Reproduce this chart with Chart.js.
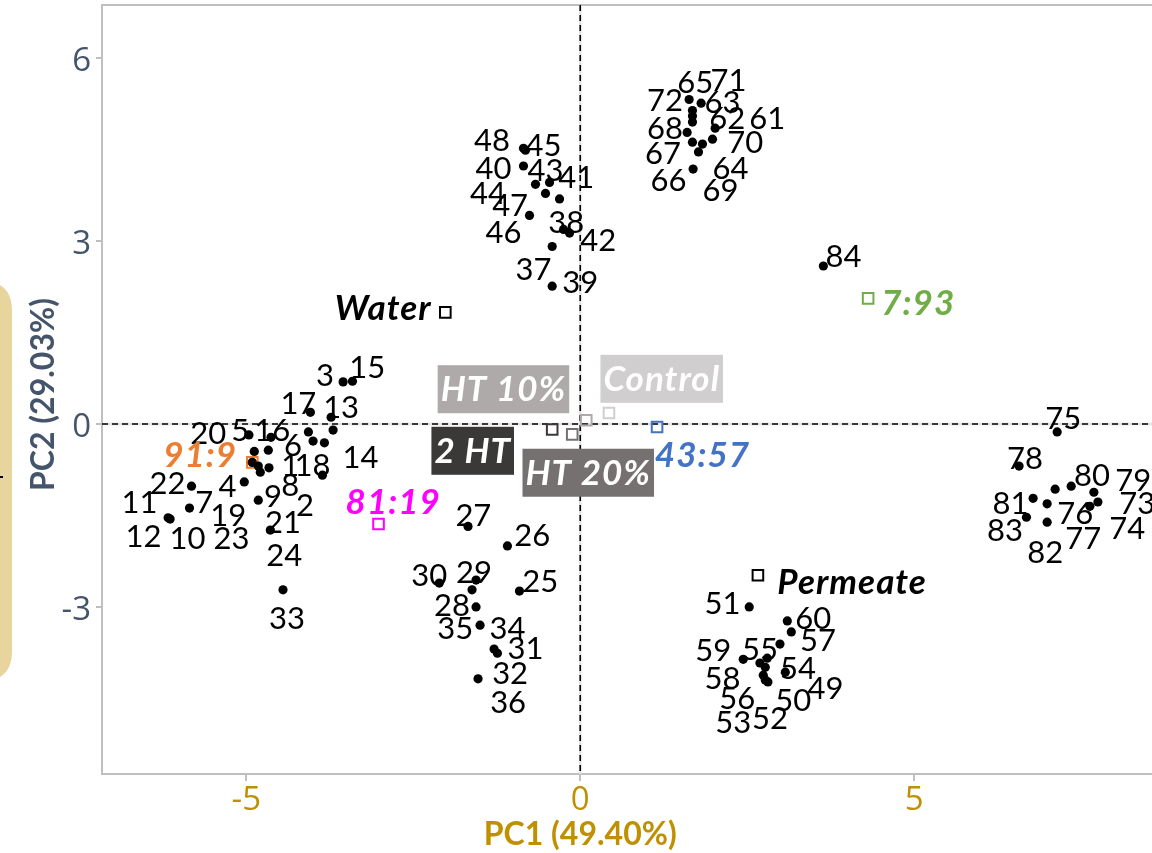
<!DOCTYPE html>
<html lang="en">
<head>
<meta charset="utf-8">
<title>PCA score plot</title>
<script src="https://cdn.jsdelivr.net/npm/chart.js@4.4.1/dist/chart.umd.min.js"></script>
<style>
  html, body { margin: 0; padding: 0; background: #ffffff; overflow: hidden; }
  #box { position: relative; width: 1152px; height: 853px; }
</style>
</head>
<body>
<div id="box"><canvas id="pca"></canvas></div>
<script>
// Sample numbers
const sampleIds = Array.from({ length: 84 }, (_, i) => String(i + 1));

// Scores on PC1 / PC2, samples 1..84
const pc1 = [
  -4.00, -4.66, -3.55, -5.03, -4.96, -4.07, -5.85, -3.83, -4.82, -4.91, -6.17, -6.14,
  -3.73, -3.70, -3.41, -4.63, -4.04, -3.86, -4.82, -4.88, -4.64, -5.82, -4.79, -4.67,
  -0.91, -1.09, -1.68, -1.56, -1.62, -2.11, -1.24, -1.53, -4.45, -1.29, -1.50, -1.56,
  -0.42, -0.25, -0.42, -0.85, -0.31, -0.16, -0.46, -0.67, -0.82, -0.76, -0.52, -0.85,
   2.80,  2.81,  2.53,  2.77,  2.74,  3.07,  2.99,  2.69,  3.16,  2.77,  2.44,  3.10,
   1.68,  2.02,  1.81,  1.77,  1.68,  1.69,  1.68,  1.60,  1.83,  1.98,  1.68,  1.63,
   7.75,  7.63,  7.14,  6.99,  7.11,  6.57,  7.69,  7.35,  6.78,  6.99,  6.68,  3.64
];
const pc2 = [
  -0.28, -0.72,  0.69, -0.95, -0.18, -0.13, -1.38, -0.31, -1.25, -0.63, -1.54, -1.56,
   0.11, -0.10,  0.70, -0.22,  0.19, -0.84, -0.69, -0.45, -1.74, -1.02, -0.79, -0.43,
  -2.74, -2.00, -1.68, -3.00, -2.72, -2.61, -3.76, -4.18, -2.72, -3.69, -3.30, -2.56,
   2.91,  3.19,  2.26,  4.23,  3.69,  3.13,  3.96,  3.93,  4.49,  3.42,  3.78,  4.52,
  -3.84, -4.23, -3.00, -4.20, -4.12, -4.07, -3.61, -3.92, -3.41, -3.99, -3.86, -3.23,
   4.95,  4.85,  5.26,  4.46,  5.14,  4.18,  4.62,  4.78,  4.59,  4.67,  5.05,  5.32,
  -1.28, -1.35, -0.13, -1.31, -1.07, -0.69, -1.12, -1.02, -1.22, -1.61, -1.53,  2.59
];

// Where each sample number is written (repelled text anchors, data units)
const tagPc1 = [
  -4.34, -4.12, -3.82, -5.28, -5.09, -4.30, -5.63, -4.34, -4.60, -5.88, -6.60, -6.54,
  -3.58, -3.29, -3.19, -4.61, -4.22, -4.01, -5.27, -5.57, -4.45, -6.18, -5.22, -4.43,
  -0.60, -0.72, -1.60, -1.92, -1.59, -2.26, -0.82, -1.05, -4.39, -1.09, -1.87, -1.08,
  -0.70, -0.21,  0.00, -1.30, -0.06,  0.27, -0.52, -1.38, -0.55, -1.15, -1.05, -1.32,
   3.67,  3.19,  2.13,  2.84,  2.29,  3.26,  2.69,  2.35,  3.56,  2.13,  1.99,  3.49,
   2.80,  2.20,  2.13,  2.25,  1.72,  1.32,  1.24,  1.27,  2.10,  2.47,  2.22,  1.27,
   8.34,  8.19,  7.23,  7.41,  7.53,  6.66,  8.28,  7.66,  6.44,  6.96,  6.36,  3.94
];
const tagPc2 = [
  -0.68, -1.33,  0.80, -1.02, -0.10, -0.35, -1.28, -1.00, -1.18, -1.87, -1.28, -1.84,
   0.28, -0.54,  0.93, -0.10,  0.34, -0.68, -1.50, -0.15, -1.61, -0.97, -1.87, -2.15,
  -2.58, -1.82, -1.50, -2.97, -2.43, -2.48, -3.68, -4.09, -3.18, -3.35, -3.35, -4.56,
   2.54,  3.31,  2.32,  4.19,  4.05,  3.01,  4.16,  3.78,  4.57,  3.14,  3.59,  4.65,
  -4.33, -4.53, -2.94, -4.82, -4.89, -4.00, -3.69, -4.50, -3.54, -4.17, -3.71, -3.18,
   5.01,  5.01,  5.28,  4.19,  5.60,  4.00,  4.44,  4.85,  3.83,  4.62,  5.64,  5.31,
  -1.30, -1.71,  0.10, -1.46, -1.87, -0.56, -0.92, -0.84, -1.30, -2.10, -1.74,  2.75
];

// Group centroids (supplementary points)
const groupNames = ['Water', 'Permeate', '7:93', '91:9', '81:19', '43:57', '2 HT', 'HT 20%', 'HT 10%', 'Control'];
const groupPc1 = [-2.02,  2.66, 4.31, -4.91, -3.02,  1.15, -0.42, -0.12, 0.09, 0.43];
const groupPc2 = [ 1.83, -2.48, 2.06, -0.63, -1.64, -0.05, -0.09, -0.17, 0.06, 0.18];
const groupTagPc1 = [-2.95,  4.07, 5.06, -5.69, -2.80,  1.83, -1.61,  0.12, -1.15, 1.22];
const groupTagPc2 = [ 1.90, -2.59, 1.98, -0.51, -1.28, -0.51, -0.44, -0.80,  0.57, 0.74];
const groupColors = ['#000000', '#000000', '#70AD47', '#ED7D31', '#FF00FF', '#4472C4',
                     '#3B3838', '#767171', '#AEAAAA', '#D0CECE'];
const boxedGroups = ['2 HT', 'HT 20%', 'HT 10%', 'Control'];

// Axes
const xTicks = [-5, 0, 5];
const yTicks = [-3, 0, 3, 6];
const xTitle = 'PC1 (49.40%)';
const yTitle = 'PC2 (29.03%)';
const xRange = [-7.16, 8.56];
const yRange = [-5.74, 6.87];

const NUM_FONT = '31px Lato';
const GROUP_FONT = 'italic bold 35px Lato';
const TITLE_FONT = 'bold 32px Lato';

function roundedRect(ctx, x, y, w, h, r) {
  ctx.beginPath();
  ctx.moveTo(x + r, y);
  ctx.lineTo(x + w - r, y);
  ctx.quadraticCurveTo(x + w, y, x + w, y + r);
  ctx.lineTo(x + w, y + h - r);
  ctx.quadraticCurveTo(x + w, y + h, x + w - r, y + h);
  ctx.lineTo(x + r, y + h);
  ctx.quadraticCurveTo(x, y + h, x, y + h - r);
  ctx.lineTo(x, y + r);
  ctx.quadraticCurveTo(x, y, x + r, y);
  ctx.closePath();
}

const decor = {
  id: 'decor',
  beforeDraw(chart) {
    const { ctx } = chart;
    ctx.save();
    ctx.fillStyle = '#ffffff';
    ctx.fillRect(0, 0, chart.width, chart.height);
    // tan tab peeking in at the left edge
    ctx.fillStyle = '#E8D59D';
    roundedRect(ctx, -40, 281, 52, 400, 30);
    ctx.fill();
    ctx.fillStyle = '#000000';
    ctx.fillRect(0, 476, 3, 2);
    ctx.restore();
  },
  beforeDatasetsDraw(chart) {
    const { ctx, chartArea: a, scales: { x, y } } = chart;
    const x0 = x.getPixelForValue(0);
    const y0 = y.getPixelForValue(0);
    ctx.save();
    // top frame line
    ctx.strokeStyle = '#BFBFBF';
    ctx.lineWidth = 2;
    ctx.beginPath();
    ctx.moveTo(a.left - 1, a.top);
    ctx.lineTo(a.right, a.top);
    ctx.stroke();
    // faint zero grid lines
    ctx.strokeStyle = '#E2E2E2';
    ctx.lineWidth = 2.5;
    ctx.beginPath();
    ctx.moveTo(x0, a.top); ctx.lineTo(x0, a.bottom);
    ctx.moveTo(a.left, y0); ctx.lineTo(a.right, y0);
    ctx.stroke();
    // dashed reference lines at 0
    ctx.strokeStyle = '#000000';
    ctx.lineWidth = 1.6;
    ctx.setLineDash([6, 4]);
    ctx.beginPath();
    ctx.moveTo(x0, a.top); ctx.lineTo(x0, a.bottom);
    ctx.moveTo(a.left, y0); ctx.lineTo(a.right, y0);
    ctx.stroke();
    ctx.restore();
  },
  afterDatasetsDraw(chart) {
    const { ctx, scales: { x, y } } = chart;
    ctx.save();
    ctx.textAlign = 'center';
    ctx.textBaseline = 'alphabetic';
    // sample numbers
    ctx.font = NUM_FONT;
    ctx.fillStyle = '#000000';
    sampleIds.forEach((id, i) => {
      ctx.fillText(id, x.getPixelForValue(tagPc1[i]), y.getPixelForValue(tagPc2[i]) + 11);
    });
    // group names
    ctx.font = GROUP_FONT;
    ctx.letterSpacing = '1px';
    groupNames.forEach((name, i) => {
      const cx = x.getPixelForValue(groupTagPc1[i]);
      const cy = y.getPixelForValue(groupTagPc2[i]);
      if (boxedGroups.includes(name)) {
        const w = ctx.measureText(name).width + 6;
        ctx.fillStyle = groupColors[i];
        ctx.fillRect(cx - w / 2, cy - 24, w, 48);
        ctx.fillStyle = '#ffffff';
      } else {
        ctx.fillStyle = groupColors[i];
      }
      ctx.fillText(name, cx, cy + 12);
    });
    ctx.restore();
  },
  afterDraw(chart) {
    const { ctx, chartArea: a, scales: { x } } = chart;
    ctx.save();
    ctx.font = TITLE_FONT;
    ctx.textAlign = 'center';
    ctx.textBaseline = 'alphabetic';
    ctx.fillStyle = '#BF9000';
    ctx.fillText(xTitle, x.getPixelForValue(0), 845);
    ctx.translate(54, (a.top + a.bottom) / 2 + 5);
    ctx.rotate(-Math.PI / 2);
    ctx.fillStyle = '#44546A';
    ctx.fillText(yTitle, 0, 0);
    ctx.restore();
  }
};

new Chart(document.getElementById('pca'), {
  type: 'scatter',
  data: {
    datasets: [
      {
        label: 'Samples',
        data: pc1.map((v, i) => ({ x: v, y: pc2[i] })),
        pointRadius: 4.6,
        pointHoverRadius: 4.6,
        backgroundColor: '#000000',
        borderColor: '#000000',
        borderWidth: 0,
        order: 0
      },
      {
        label: 'Groups',
        data: groupPc1.map((v, i) => ({ x: v, y: groupPc2[i] })),
        pointStyle: 'rect',
        pointRadius: 7.5,
        pointHoverRadius: 7.5,
        borderWidth: 2,
        borderColor: groupColors,
        backgroundColor: 'rgba(0,0,0,0)',
        order: 1
      }
    ]
  },
  options: {
    responsive: true,
    maintainAspectRatio: false,
    animation: false,
    devicePixelRatio: 1,
    events: [],
    layout: { autoPadding: false, padding: { top: 5, right: 0, bottom: 0, left: 0 } },
    plugins: { legend: { display: false }, tooltip: { enabled: false } },
    scales: {
      x: {
        type: 'linear',
        position: 'bottom',
        min: xRange[0],
        max: xRange[1],
        afterBuildTicks: s => { s.ticks = xTicks.map(v => ({ value: v })); },
        afterFit: s => { s.height = 79; s.paddingLeft = 0; s.paddingRight = 0; },
        grid: { drawOnChartArea: false, drawTicks: true, tickLength: 7, color: '#BFBFBF', lineWidth: 2 },
        border: { display: true, color: '#BFBFBF', width: 2 },
        ticks: { color: '#BF9000', font: { family: 'Open Sans', size: 33 }, padding: 0 }
      },
      y: {
        type: 'linear',
        min: yRange[0],
        max: yRange[1],
        afterBuildTicks: s => { s.ticks = yTicks.map(v => ({ value: v })); },
        afterFit: s => { s.width = 102; s.paddingTop = 0; s.paddingBottom = 0; },
        grid: { drawOnChartArea: false, drawTicks: true, tickLength: 6, color: '#BFBFBF', lineWidth: 2 },
        border: { display: true, color: '#BFBFBF', width: 2 },
        ticks: {
          color: '#44546A',
          font: { family: 'Open Sans', size: 33, lineHeight: '8px' },
          padding: 5,
          // an empty first line nudges each label a few pixels below its tick
          callback: v => ['', String(v)]
        }
      }
    }
  },
  plugins: [decor]
});
</script>
</body>
</html>
